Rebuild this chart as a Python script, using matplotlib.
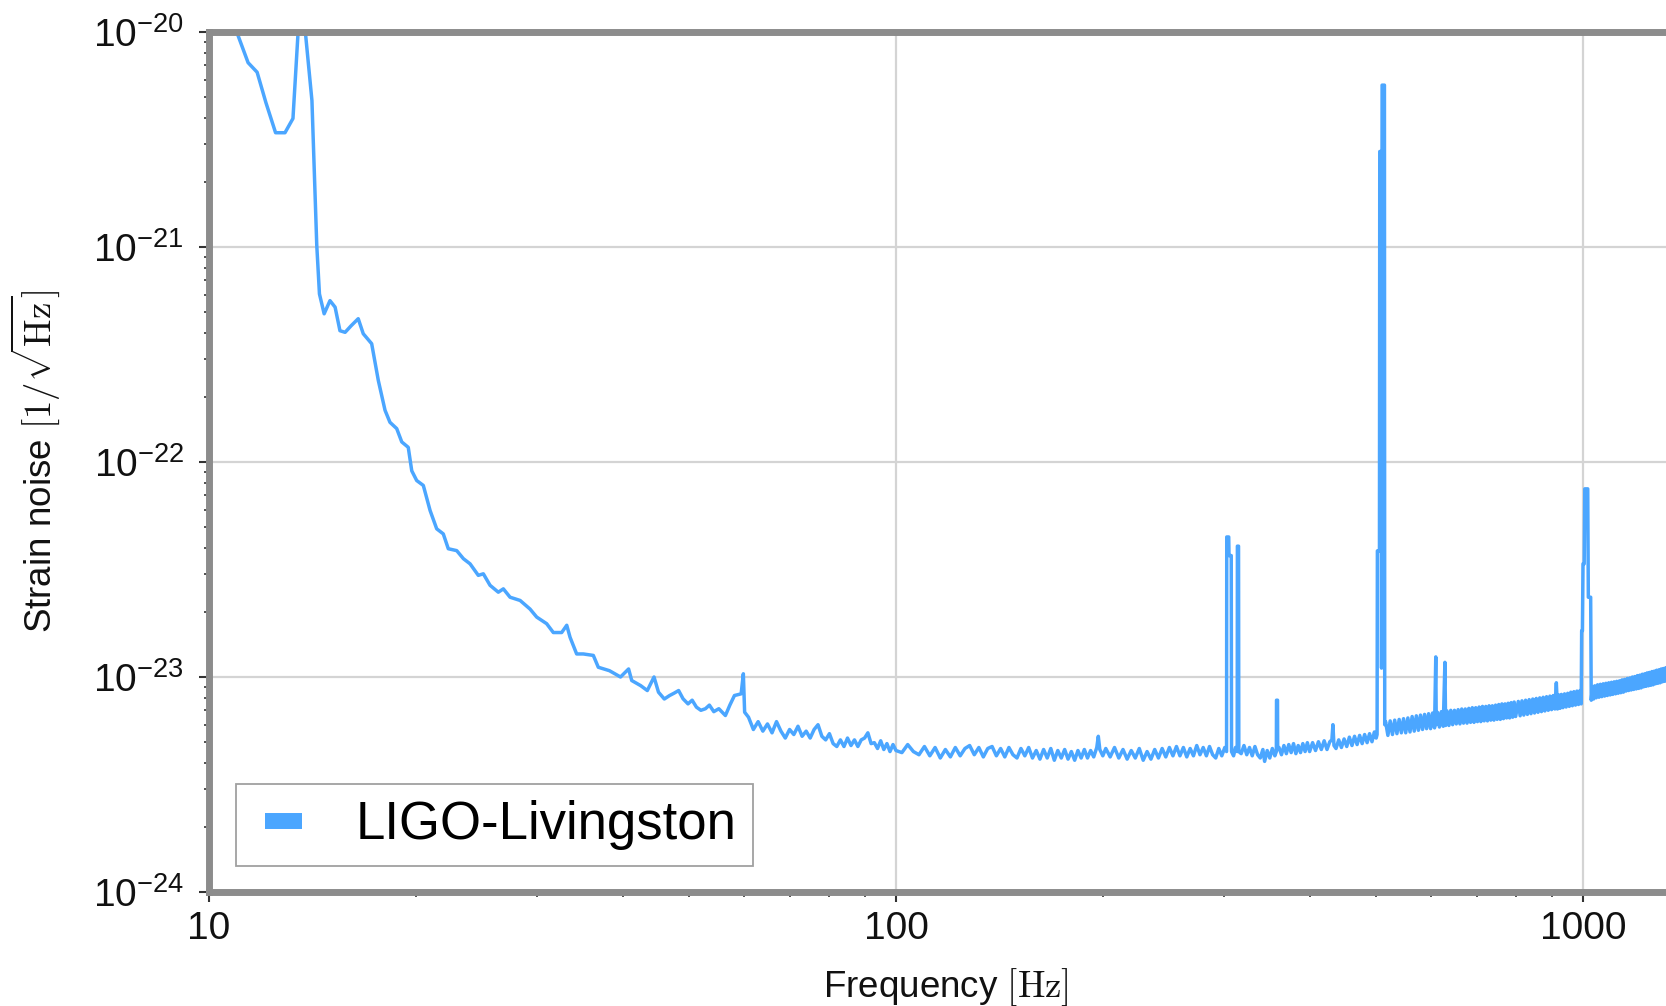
import numpy as np
import matplotlib
matplotlib.use("Agg")
import matplotlib.pyplot as plt
from matplotlib.ticker import FuncFormatter, NullFormatter, LogLocator
from matplotlib.legend_handler import HandlerLine2D

# LIGO-Livingston amplitude spectral density
# strain values are given in units of 1e-24 / sqrt(Hz)
STRAIN_UNIT = 1e-24

# 10 - 60 Hz: seismic wall, 13.7 Hz resonance, 60 Hz mains line
freq_low = [10.0, 10.5, 11.0, 11.4, 11.75, 12.1, 12.5, 12.9, 13.25, 13.48,
            13.6, 13.7, 13.82, 14.12, 14.35, 14.48, 14.71, 15.0, 15.26, 15.51,
            15.78, 16.1, 16.49, 16.77, 17.25, 17.64, 18.04, 18.34, 18.76, 19.08,
            19.5, 19.73, 20.06, 20.51, 20.98, 21.45, 21.93, 22.3, 22.94, 23.46,
            23.99, 24.66, 25.08, 25.65, 26.37, 26.82, 27.43, 28.37, 29.33, 29.99,
            31.01, 31.71, 32.61, 33.17, 33.54, 34.29, 35.06, 36.26, 36.87, 38.27,
            39.72, 40.81, 41.24, 42.49, 43.45, 44.44, 45.11, 46.0, 46.82, 47.5,
            48.26, 48.98, 49.8, 50.5, 51.23, 52.0, 52.8, 53.5, 54.3, 55.22,
            56.45, 57.3, 58.19, 59.51, 59.95, 60.21]
asd_low = [18000, 13000, 9800, 7200, 6500, 4700, 3400, 3400, 3960, 10000,
           30000, 30000, 9800, 4800, 1020, 605, 489, 563, 525, 408,
           401, 430, 464, 395, 355, 239, 174, 153, 143, 124,
           117, 91, 82, 77.8, 59.5, 48.9, 46.3, 39.5, 38.7, 35.5,
           33.6, 29.7, 30.2, 26.7, 24.8, 25.7, 23.5, 22.7, 20.7, 19.0,
           17.7, 16.1, 16.1, 17.4, 15.3, 12.8, 12.8, 12.6, 11.1, 10.7,
           10.0, 10.9, 9.63, 9.12, 8.65, 10.0, 8.5, 7.9, 8.2, 8.4,
           8.65, 7.92, 7.5, 7.8, 7.24, 7.0, 7.12, 7.4, 6.9, 7.12,
           6.62, 7.4, 8.2, 8.35, 10.35, 6.86]

# 61 - 500 Hz: bucket, calibration lines near 305, 315, 358 Hz
freq_mid = [61, 62, 63, 64, 65, 66, 67, 68, 69, 70,
            71, 72, 73, 74, 75, 76, 77, 78, 79, 80,
            81, 82, 83, 84, 85, 86, 87, 88, 89, 90,
            91, 92, 93, 94, 95, 96, 97, 98, 99, 100,
            102, 104, 106, 108, 110, 112, 114, 116, 118, 120,
            122, 124, 126, 128, 130, 132, 134, 136, 138, 140,
            142, 144, 146, 148, 150, 152, 154, 156, 158, 160,
            162, 164, 166, 168, 170, 172, 174, 176, 178, 180,
            182, 184, 186, 188, 190, 192, 194, 196, 197, 198,
            200, 202, 205, 208, 211, 214, 217, 220, 223, 226,
            229, 232, 235, 238, 241, 244, 247, 250, 253, 256,
            259, 262, 265, 268, 271, 274, 277, 280, 283, 286,
            289, 292, 295, 298, 301, 302.8, 303.0, 305.0, 305.3, 307.6,
            307.9, 310, 312, 313.8, 314.0, 315.2, 315.5, 318, 321, 324,
            327, 330, 333, 336, 339, 342, 344, 347, 350, 353,
            356, 357.8, 358.0, 359.2, 359.4, 361, 364, 367, 370, 373,
            376, 379, 382, 385, 388, 391, 394, 397, 400, 404,
            408, 412, 416, 420, 424, 428, 431, 432.5, 434, 437,
            441, 445, 449, 453, 457, 461, 465, 469, 473, 477,
            481, 485, 489, 493, 497, 500]
asd_mid = [6.5, 5.7, 6.2, 5.6, 6.05, 5.5, 6.2, 5.6, 5.2, 5.7,
           5.4, 5.9, 5.3, 5.6, 5.2, 5.7, 6.0, 5.3, 5.1, 5.45,
           4.9, 4.75, 5.1, 4.75, 5.2, 4.8, 5.1, 4.75, 5.1, 5.2,
           5.5, 4.9, 4.95, 4.65, 5.05, 4.6, 4.9, 4.5, 4.85, 4.55,
           4.45, 4.85, 4.5, 4.35, 4.75, 4.3, 4.7, 4.2, 4.6, 4.25,
           4.7, 4.3, 4.65, 4.8, 4.35, 4.7, 4.25, 4.65, 4.75, 4.3,
           4.65, 4.25, 4.7, 4.35, 4.2, 4.65, 4.3, 4.7, 4.2, 4.55,
           4.15, 4.6, 4.2, 4.65, 4.1, 4.55, 4.2, 4.6, 4.15, 4.5,
           4.1, 4.55, 4.2, 4.6, 4.2, 4.55, 4.25, 4.7, 5.3, 4.6,
           4.3, 4.65, 4.25, 4.7, 4.2, 4.6, 4.15, 4.55, 4.2, 4.65,
           4.1, 4.5, 4.15, 4.6, 4.2, 4.65, 4.25, 4.7, 4.3, 4.75,
           4.3, 4.7, 4.25, 4.65, 4.3, 4.8, 4.35, 4.7, 4.3, 4.75,
           4.35, 4.2, 4.65, 4.3, 4.7, 4.5, 44.8, 44.8, 36.7, 36.7,
           4.5, 4.3, 4.7, 4.5, 40.6, 40.6, 4.5, 4.4, 4.8, 4.35,
           4.7, 4.3, 4.75, 4.35, 4.2, 4.6, 4.05, 4.55, 4.2, 4.65,
           4.3, 4.5, 7.8, 7.8, 4.6, 4.7, 4.35, 4.8, 4.4, 4.85,
           4.45, 4.9, 4.4, 4.8, 4.45, 4.9, 4.5, 4.95, 4.5, 4.95,
           4.55, 5.0, 4.6, 5.05, 4.6, 5.0, 5.1, 6.0, 4.8, 4.65,
           5.1, 4.7, 5.15, 4.75, 5.25, 4.8, 5.3, 4.85, 5.35, 4.9,
           5.4, 4.95, 5.45, 5.0, 5.55, 5.2]

# 500 - 800 Hz: violin modes near 505 Hz, lines near 611 and 630 Hz
freq_violin = [501.5, 502, 505.5, 506, 508.5, 509, 510, 514, 514.5, 516,
               520, 524, 528, 532, 536, 540, 544, 548, 552, 556,
               560, 564, 568, 572, 576, 580, 584, 588, 592, 596,
               600, 604, 608, 610.5, 611.5, 614, 618, 622, 626, 629.5,
               631, 634, 638, 642, 646, 650, 654, 658, 662, 666,
               670, 674, 678, 682, 686, 690, 694, 698, 702, 706,
               710, 714, 718, 722, 726, 730, 734, 738, 742, 746,
               750, 754, 758, 762, 766, 770, 774, 778, 782, 786,
               790, 794, 798]
asd_violin = [5.4, 38.6, 38.6, 2780, 2780, 11.0, 5660, 5660, 6.0, 6.2,
              5.35, 6.25, 5.4, 6.3, 5.45, 6.35, 5.5, 6.4, 5.5, 6.45,
              5.55, 6.55, 5.6, 6.6, 5.65, 6.65, 5.7, 6.7, 5.75, 6.75,
              5.75, 6.8, 5.8, 12.4, 6.0, 6.85, 5.85, 6.9, 5.9, 11.7,
              5.95, 6.95, 5.95, 7.0, 6.0, 7.0, 6.05, 7.05, 6.05, 7.1,
              6.1, 7.1, 6.1, 7.15, 6.15, 7.2, 6.15, 7.2, 6.2, 7.25,
              6.2, 7.3, 6.25, 7.3, 6.25, 7.35, 6.3, 7.35, 6.3, 7.4,
              6.35, 7.45, 6.35, 7.5, 6.4, 7.5, 6.45, 7.55, 6.45, 7.6,
              6.5, 7.65, 6.55]

# 800 - 1335 Hz: shot-noise slope with the 1 kHz violin harmonic
freq_high = [805, 810, 815, 820, 825, 830, 835, 840, 845, 850,
             855, 860, 865, 870, 875, 880, 885, 890, 895, 900,
             905, 910, 914.5, 918, 922, 926, 930, 935, 940, 945,
             950, 955, 960, 965, 970, 975, 980, 985, 990, 994,
             995.5, 998, 1000, 1004, 1006, 1016, 1018, 1026, 1028, 1032,
             1036, 1040, 1045, 1050, 1055, 1060, 1065, 1070, 1075, 1080,
             1085, 1090, 1095, 1100, 1105, 1110, 1115, 1120, 1125, 1130,
             1135, 1140, 1145, 1150, 1155, 1160, 1165, 1170, 1175, 1180,
             1185, 1190, 1195, 1200, 1205, 1210, 1215, 1220, 1225, 1230,
             1235, 1240, 1245, 1250, 1255, 1260, 1265, 1270, 1275, 1280,
             1285, 1290, 1295, 1300, 1305, 1310, 1315, 1320, 1325, 1330,
             1335]
asd_high = [7.7, 6.6, 7.75, 6.65, 7.8, 6.7, 7.85, 6.75, 7.9, 6.8,
            7.95, 6.85, 8.0, 6.9, 8.05, 6.95, 8.1, 7.0, 8.15, 7.05,
            8.2, 7.1, 9.4, 7.1, 8.25, 7.15, 8.3, 7.2, 8.35, 7.25,
            8.4, 7.3, 8.5, 7.35, 8.55, 7.4, 8.6, 7.45, 8.65, 7.5,
            16.4, 16.4, 33.6, 33.6, 75.0, 75.0, 23.5, 23.5, 7.8, 9.0,
            7.9, 9.1, 8.0, 9.2, 8.05, 9.25, 8.1, 9.3, 8.15, 9.35,
            8.2, 9.4, 8.25, 9.45, 8.3, 9.5, 8.35, 9.55, 8.4, 9.6,
            8.45, 9.7, 8.5, 9.75, 8.6, 9.85, 8.65, 9.9, 8.7, 10.0,
            8.75, 10.05, 8.8, 10.15, 8.85, 10.2, 8.9, 10.3, 9.0, 10.35,
            9.05, 10.45, 9.1, 10.5, 9.15, 10.6, 9.2, 10.65, 9.3, 10.75,
            9.35, 10.8, 9.4, 10.9, 9.5, 10.95, 9.55, 11.05, 9.6, 11.1,
            9.65]

freq = np.array(freq_low + freq_mid + freq_violin + freq_high)
asd = np.array(asd_low + asd_mid + asd_violin + asd_high) * STRAIN_UNIT

ligo_color = '#4ba6ff'
spine_color = '#8c8c8c'
tick_color = '#333333'

plt.rcParams['font.family'] = ['Liberation Sans', 'DejaVu Sans']

fig = plt.figure(figsize=(16.66, 10.06), dpi=100)
# right edge of the axes runs past the figure, as in the cropped original
ax = fig.add_axes([0.12545, 0.11332, 0.88499, 0.85487])

ax.plot(freq, asd, color=ligo_color, linewidth=2.5, label='LIGO-Livingston')

ax.set_xscale('log')
ax.set_yscale('log')
ax.set_xlim(10, 1400)
ax.set_ylim(1e-24, 1e-20)

ax.xaxis.set_major_formatter(FuncFormatter(lambda v, p: f'{v:g}'))
ax.xaxis.set_minor_formatter(NullFormatter())
ax.yaxis.set_minor_locator(LogLocator(base=10, subs=np.arange(2, 10)))
ax.yaxis.set_minor_formatter(NullFormatter())

ax.set_axisbelow(True)
ax.grid(True, which='major', color='#d4d4d4', linewidth=1.6)

for side in ax.spines:
    ax.spines[side].set_color(spine_color)
    ax.spines[side].set_linewidth(5)

ax.tick_params(which='major', direction='out', length=7, width=1.5,
               color=tick_color, labelsize=28, labelcolor='#111111')
ax.tick_params(which='minor', direction='out', length=3.5, width=1.2,
               color=tick_color)
ax.tick_params(axis='x', which='major', pad=7)
ax.tick_params(axis='y', which='major', pad=11)

ax.set_xlabel(r'Frequency $[\mathrm{Hz}]$', fontsize=26.5, color='#111111',
              math_fontfamily='cm')
ax.set_ylabel(r'Strain noise $[1/\sqrt{\mathrm{Hz}}]$', fontsize=26.5,
              color='#111111', math_fontfamily='cm')
ax.xaxis.set_label_coords(0.5, -0.087)
ax.yaxis.set_label_coords(-0.100, 0.5)

leg = ax.legend(loc='lower left', bbox_to_anchor=(0.1417, 0.1392),
                bbox_transform=fig.transFigure, borderaxespad=0,
                fontsize=38, fancybox=False, framealpha=1,
                edgecolor='#a0a0a0', borderpad=0.3,
                handlelength=0.95, handletextpad=1.02,
                handler_map={matplotlib.lines.Line2D: HandlerLine2D(xpad=0.25)})
leg.get_frame().set_linewidth(1.3)
for h in leg.legend_handles:
    h.set_linewidth(11.5)
    h.set_solid_capstyle('butt')

fig.savefig('out.png', dpi=100)
